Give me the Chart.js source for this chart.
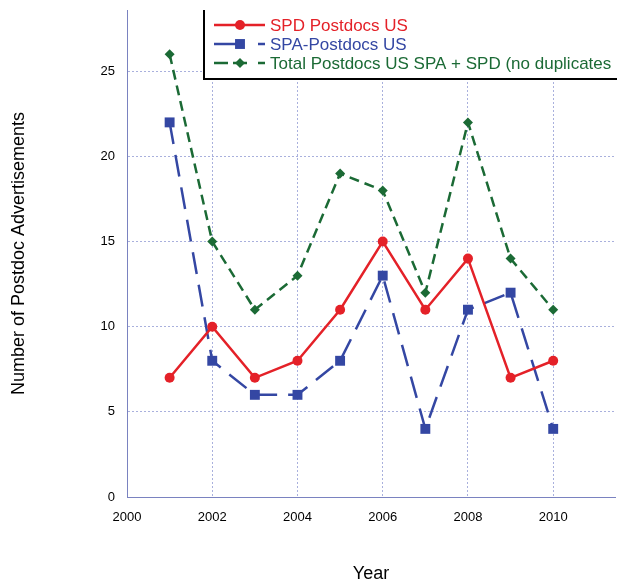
<!DOCTYPE html>
<html>
<head>
<meta charset="utf-8">
<script src="https://cdn.jsdelivr.net/npm/chart.js@4.4.1/dist/chart.umd.min.js"></script>
<style>
  body { margin: 0; background: #fff; }
  canvas { display: block; }
</style>
</head>
<body>
<canvas id="postdocChart" width="617" height="583"></canvas>
<script>
const years = [2001, 2002, 2003, 2004, 2005, 2006, 2007, 2008, 2009, 2010];
const spdPostdocs = [7, 10, 7, 8, 11, 15, 11, 14, 7, 8];
const spaPostdocs = [22, 8, 6, 6, 8, 13, 4, 11, 12, 4];
const totalPostdocs = [26, 15, 11, 13, 19, 18, 12, 22, 14, 11];

const FONT = "'Liberation Sans', Arial, sans-serif";
const RED = '#e42128';
const BLUE = '#3447a3';
const GREEN = '#1b6a35';
const GRID = '#a9b0dd';

function toPoints(values) {
    return years.map((y, i) => ({ x: y, y: values[i] }));
}

// keep the plot area exactly where layout.padding puts it
function noScalePadding(scale) {
    scale.paddingTop = 0;
    scale.paddingBottom = 0;
    scale.paddingLeft = 0;
    scale.paddingRight = 0;
}

// legend box in the top right corner, left and bottom edges only
const boxLegend = {
    id: 'boxLegend',
    afterDraw(chart) {
        const ctx = chart.ctx;
        const left = 204, top = 10, bottom = 79, right = chart.width;
        ctx.save();
        ctx.fillStyle = '#fff';
        ctx.fillRect(left, top, right - left, bottom - top);
        ctx.strokeStyle = '#000';
        ctx.lineWidth = 2;
        ctx.beginPath();
        ctx.moveTo(left, top);
        ctx.lineTo(left, bottom);
        ctx.lineTo(right, bottom);
        ctx.stroke();

        const rows = [25, 44, 63];
        chart.data.datasets.forEach((ds, i) => {
            const y = rows[i];
            ctx.strokeStyle = ds.borderColor;
            ctx.lineWidth = ds.borderWidth;
            ctx.setLineDash(ds.legendDash || []);
            ctx.beginPath();
            ctx.moveTo(214, y);
            ctx.lineTo(265, y);
            ctx.stroke();
            ctx.setLineDash([]);
            ctx.fillStyle = ds.borderColor;
            Chart.helpers.drawPoint(ctx, {
                pointStyle: ds.pointStyle,
                radius: ds.pointRadius,
                borderWidth: 0
            }, 240, y);
            ctx.font = '17px ' + FONT;
            ctx.textBaseline = 'middle';
            ctx.fillText(ds.label, 270, y + 1);
        });
        ctx.restore();
    }
};

new Chart(document.getElementById('postdocChart'), {
    type: 'line',
    data: {
        datasets: [
            {
                label: 'SPD Postdocs US',
                data: toPoints(spdPostdocs),
                borderColor: RED,
                backgroundColor: RED,
                borderWidth: 2.5,
                pointStyle: 'circle',
                pointRadius: 5,
                pointBorderWidth: 0
            },
            {
                label: 'SPA-Postdocs US',
                data: toPoints(spaPostdocs),
                borderColor: BLUE,
                backgroundColor: BLUE,
                borderWidth: 2.5,
                borderDash: [22, 11],
                legendDash: [27, 17],
                pointStyle: 'rect',
                pointRadius: 7,
                pointBorderWidth: 0
            },
            {
                label: 'Total Postdocs US SPA + SPD (no duplicates',
                data: toPoints(totalPostdocs),
                borderColor: GREEN,
                backgroundColor: GREEN,
                borderWidth: 2.5,
                borderDash: [10, 6],
                legendDash: [14, 5, 14, 11],
                pointStyle: 'rectRot',
                pointRadius: 5,
                pointBorderWidth: 0
            }
        ]
    },
    options: {
        responsive: false,
        animation: false,
        devicePixelRatio: 1,
        layout: {
            autoPadding: false,
            padding: { top: 10, right: 2, left: 0, bottom: 0 }
        },
        plugins: {
            legend: { display: false },
            tooltip: { enabled: false }
        },
        scales: {
            x: {
                type: 'linear',
                min: 2000,
                max: 2011.45,
                afterFit(scale) {
                    scale.height = 86;
                    noScalePadding(scale);
                },
                ticks: {
                    stepSize: 2,
                    includeBounds: false,
                    padding: 13,
                    color: '#000',
                    font: { family: FONT, size: 13 },
                    callback: v => String(v)
                },
                grid: {
                    color: GRID,
                    lineWidth: 1,
                    drawTicks: false
                },
                border: { color: '#7a82c0', dash: [2, 2] },
                title: {
                    display: true,
                    text: 'Year',
                    color: '#000',
                    font: { family: FONT, size: 18, lineHeight: 1 },
                    padding: { top: 0, bottom: 0 }
                }
            },
            y: {
                min: 0,
                max: 28.6,
                afterFit(scale) {
                    scale.width = 127;
                    noScalePadding(scale);
                },
                ticks: {
                    stepSize: 5,
                    includeBounds: false,
                    padding: 12,
                    color: '#000',
                    font: { family: FONT, size: 13 }
                },
                grid: {
                    color: GRID,
                    lineWidth: 1,
                    drawTicks: false
                },
                border: { color: '#7a82c0', dash: [2, 2] },
                title: {
                    display: true,
                    text: 'Number of Postdoc Advertisements',
                    color: '#000',
                    font: { family: FONT, size: 18 },
                    padding: { top: 8, bottom: 0 }
                }
            }
        }
    },
    plugins: [boxLegend]
});
</script>
</body>
</html>
